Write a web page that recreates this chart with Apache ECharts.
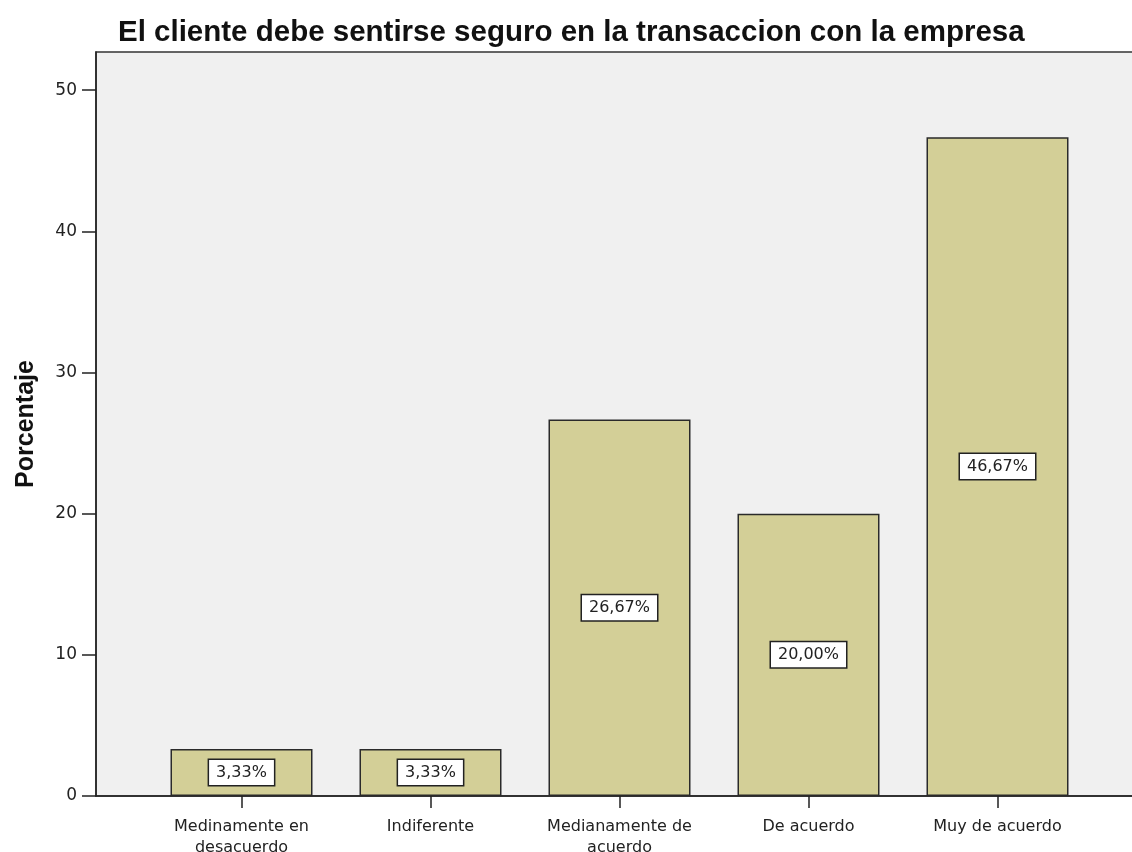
<!DOCTYPE html>
<html>
<head>
<meta charset="utf-8">
<script src="https://cdn.jsdelivr.net/npm/echarts@6/dist/echarts.min.js"></script>
<style>
  html, body { margin: 0; padding: 0; background: #fff; }
  #chart { width: 1132px; height: 852px; }
</style>
</head>
<body>
<div id="chart"></div>
<script>
// datos
const categorias = ['Medinamente en\ndesacuerdo', 'Indiferente', 'Medianamente de\nacuerdo', 'De acuerdo', 'Muy de acuerdo'];
const porcentajes = [3.33, 3.33, 26.67, 20.00, 46.67];
const yTicks = [0, 10, 20, 30, 40, 50];

const yMax = 52.7;
const fuente = 'Liberation Sans';
const fuenteEje = 'DejaVu Sans';

const chart = echarts.init(document.getElementById('chart'));
chart.setOption({
    backgroundColor: '#fff',
    textStyle: { fontFamily: fuente },
    title: {
        text: 'El cliente debe sentirse seguro en la transaccion con la empresa',
        left: 113,
        top: 13,
        textStyle: { fontSize: 29.5, fontWeight: 'bold', color: '#111', fontFamily: fuente }
    },
    grid: [
        // area del grafico con fondo gris
        { left: 96, right: -1, top: 52, bottom: 56, outerBoundsMode: 'none', show: true, backgroundColor: '#f0f0f0', borderColor: '#333', borderWidth: 1.5 },
        // bandas de las categorias
        { left: 147, right: 40, top: 52, bottom: 56, outerBoundsMode: 'none' }
    ],
    xAxis: [
        {
            gridIndex: 0, type: 'value', min: 0, max: 1,
            axisLine: { show: true, onZero: false, lineStyle: { color: '#222', width: 1.5 } },
            axisTick: { show: false }, axisLabel: { show: false }, splitLine: { show: false }
        },
        {
            gridIndex: 1, type: 'category', data: categorias,
            axisLine: { show: false },
            axisTick: { show: true, alignWithLabel: true, length: 12, lineStyle: { color: '#222', width: 1.5 } },
            axisLabel: { fontSize: 16, color: '#222', margin: 20, lineHeight: 21, fontFamily: fuenteEje }
        }
    ],
    yAxis: [
        {
            gridIndex: 0, type: 'value', min: 0, max: yMax,
            name: 'Porcentaje', nameLocation: 'middle', nameGap: 57,
            nameTextStyle: { fontSize: 25, fontWeight: 'bold', color: '#111', fontFamily: fuente },
            axisLine: { show: true, lineStyle: { color: '#222', width: 1.5 } },
            axisTick: { show: true, length: 14, customValues: yTicks, lineStyle: { color: '#222', width: 1.5 } },
            axisLabel: { customValues: yTicks, fontSize: 17, color: '#222', margin: 19, fontFamily: fuenteEje },
            splitLine: { show: false }
        },
        { gridIndex: 1, type: 'value', min: 0, max: yMax, show: false }
    ],
    series: [{
        type: 'bar',
        xAxisIndex: 1,
        yAxisIndex: 1,
        data: porcentajes,
        barWidth: 142,
        itemStyle: { color: '#d3cf97', borderColor: '#2a2a2a', borderWidth: 1.5 },
        label: {
            show: true,
            position: 'inside',
            formatter: p => p.value.toFixed(2).replace('.', ',') + '%',
            fontSize: 16,
            color: '#222',
            fontFamily: fuenteEje,
            backgroundColor: '#fff',
            borderColor: '#222',
            borderWidth: 1.5,
            padding: [5, 7, 4, 7]
        }
    }]
});
</script>
</body>
</html>
